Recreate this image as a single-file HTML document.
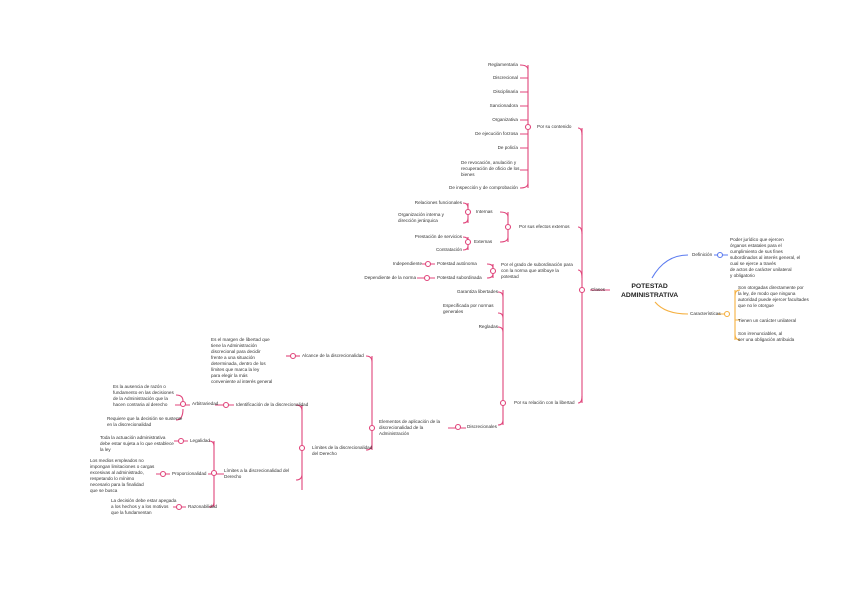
<!DOCTYPE html>
<html><head><meta charset="utf-8"><style>
body{margin:0;width:848px;height:600px;background:#fff;position:relative;overflow:hidden;font-family:"Liberation Sans",sans-serif}
.t{position:absolute;font-size:4.6px;line-height:6px;color:#333;white-space:nowrap}
.r{text-align:right}
svg{position:absolute;left:0;top:0}
</style></head><body>
<svg width="848" height="600" fill="none" stroke-width="1.1">
<g stroke="#e0457b">
<path d="M590 290 H610"/>
<path d="M582 128 V403"/>
<path d="M578 128 Q582 128 582 135 M578 227 Q582 227 582 234 M578 270 Q582 270 582 278 M578 403 Q582 403 582 396"/>
<path d="M528 65 V188 M520 65 Q528 65 528 70 M520 188 Q528 188 528 183"/>
<path d="M520 78 H528 M520 92 H528 M520 106 H528 M520 120 H528 M520 134 H528 M520 148 H528 M520 170 H528"/>
<path d="M508 212 V242 M500 212 Q508 212 508 217 M500 242 Q508 242 508 237"/>
<path d="M468 203 V223 M463 203 Q468 203 468 208 M463 223 Q468 223 468 218 M468 237 V250 M463 237 Q468 237 468 241 M463 250 Q468 250 468 246"/>
<path d="M493 264 V278 M487 264 Q493 264 493 268 M487 278 Q493 278 493 274"/>
<path d="M422 264 H435 M417 278 H435"/>
<path d="M503 290 V425 M498 292 Q503 292 503 297 M498 313 Q503 313 503 318 M498 327 Q503 327 503 332 M498 425 Q503 425 503 420"/>
<path d="M448 428 H466"/>
<path d="M372 356 V450 M366 356 Q372 356 372 362 M366 450 Q372 450 372 444"/>
<path d="M286 356 H300"/>
<path d="M302 405 V490 M296 405 Q302 405 302 411 M296 480 Q302 480 302 474"/>
<path d="M215 405 H234 M175 405 H190 M176 395 Q183 395 183 401 M176 420 Q183 420 183 409"/>
<path d="M214 441 V507 M209 441 Q214 441 214 446 M209 507 Q214 507 214 502 M208 474 H224"/>
<path d="M174 441 H188 M156 474 H170 M173 507 H186"/>
</g>
<g stroke="#e0457b" fill="#fff">
<circle cx="582" cy="290" r="2.5"/><circle cx="528" cy="127" r="2.5"/><circle cx="508" cy="227" r="2.5"/>
<circle cx="468" cy="212" r="2.5"/><circle cx="468" cy="242" r="2.5"/><circle cx="493" cy="271" r="2.5"/>
<circle cx="428" cy="264" r="2.5"/><circle cx="427" cy="278" r="2.5"/><circle cx="503" cy="403" r="2.5"/>
<circle cx="458" cy="427" r="2.5"/><circle cx="372" cy="428" r="2.5"/><circle cx="293" cy="356" r="2.5"/>
<circle cx="302" cy="448" r="2.5"/><circle cx="226" cy="405" r="2.5"/><circle cx="214" cy="473" r="2.5"/>
<circle cx="183" cy="404" r="2.5"/><circle cx="181" cy="441" r="2.5"/><circle cx="163" cy="474" r="2.5"/><circle cx="179" cy="507" r="2.5"/>
</g>
<path d="M652 278 Q665 255 688 255 M714 255 H728" stroke="#5b7bf0"/>
<circle cx="720" cy="255" r="2.5" stroke="#5b7bf0" fill="#fff"/>
<path d="M655 302 Q665 314 688 314 M718 314 H727 M735 290 V340 M740 290 Q735 290 735 296 M740 340 Q735 340 735 334 M735 320 H740" stroke="#f5b041"/>
<circle cx="727" cy="314" r="2.5" stroke="#f5b041" fill="#fff"/>
</svg>
<div class="t" style="left:621px;top:282px;font-size:6.8px;line-height:9px;font-weight:bold;text-align:center;color:#222">POTESTAD<br>ADMINISTRATIVA</div>
<div class="t" style="left:591px;top:287px">Clases</div>
<div class="t" style="left:692px;top:252px">Definición</div>
<div class="t" style="left:730px;top:237px">Poder jurídico que ejercen<br>órganos estatales para el<br>cumplimiento de sus fines<br>subordinados al interés general, el<br>cual se ejerce a través<br>de actos de carácter unilateral<br>y obligatorio</div>
<div class="t" style="left:690px;top:311px">Características</div>
<div class="t" style="left:738px;top:285px">Son otorgadas directamente por<br>la ley, de modo que ninguna<br>autoridad puede ejercer facultades<br>que no le otorgue</div>
<div class="t" style="left:738px;top:318px">Tienen un carácter unilateral</div>
<div class="t" style="left:738px;top:331px">Son irrenunciables, al<br>ser una obligación atribuida</div>
<div class="t" style="left:537px;top:124px">Por su contenido</div>
<div class="t r" style="right:330px;top:62px">Reglamentaria</div>
<div class="t r" style="right:330px;top:75px">Discrecional</div>
<div class="t r" style="right:330px;top:89px">Disciplinaria</div>
<div class="t r" style="right:330px;top:103px">Sancionadora</div>
<div class="t r" style="right:330px;top:117px">Organizativa</div>
<div class="t r" style="right:330px;top:131px">De ejecución forzosa</div>
<div class="t r" style="right:330px;top:145px">De policía</div>
<div class="t" style="left:461px;top:160px">De revocación, anulación y<br>recuperación de oficio de los<br>bienes</div>
<div class="t r" style="right:330px;top:185px">De inspección y de comprobación</div>
<div class="t" style="left:519px;top:224px">Por sus efectos externos</div>
<div class="t" style="left:476px;top:209px">Internas</div>
<div class="t" style="left:474px;top:239px">Externas</div>
<div class="t r" style="right:386px;top:200px">Relaciones funcionales</div>
<div class="t" style="left:398px;top:212px">Organización interna y<br>dirección jerárquica</div>
<div class="t r" style="right:386px;top:234px">Prestación de servicios</div>
<div class="t r" style="right:386px;top:247px">Contratación</div>
<div class="t" style="left:501px;top:262px">Por el grado de subordinación para<br>con la norma que atribuye la<br>potestad</div>
<div class="t" style="left:437px;top:261px">Potestad autónoma</div>
<div class="t" style="left:437px;top:275px">Potestad subordinada</div>
<div class="t r" style="right:426px;top:261px">Independiente</div>
<div class="t r" style="right:432px;top:275px">Dependiente de la norma</div>
<div class="t" style="left:514px;top:400px">Por su relación con la libertad</div>
<div class="t r" style="right:350px;top:289px">Garantiza libertades</div>
<div class="t" style="left:443px;top:303px">Especificada por normas<br>generales</div>
<div class="t r" style="right:350px;top:324px">Regladas</div>
<div class="t" style="left:467px;top:424px">Discrecionales</div>
<div class="t" style="left:379px;top:419px">Elementos de aplicación de la<br>discrecionalidad de la<br>Administración</div>
<div class="t" style="left:302px;top:353px">Alcance de la discrecionalidad</div>
<div class="t" style="left:211px;top:337px">Es el margen de libertad que<br>tiene la Administración<br>discrecional para decidir<br>frente a una situación<br>determinada, dentro de los<br>límites que marca la ley<br>para elegir la más<br>conveniente al interés general</div>
<div class="t" style="left:312px;top:445px">Límites de la discrecionalidad<br>del Derecho</div>
<div class="t" style="left:236px;top:402px">Identificación de la discrecionalidad</div>
<div class="t" style="left:224px;top:468px">Límites a la discrecionalidad del<br>Derecho</div>
<div class="t" style="left:192px;top:401px">Arbitrariedad</div>
<div class="t" style="left:113px;top:384px">Es la ausencia de razón o<br>fundamento en las decisiones<br>de la Administración que la<br>hacen contraria al derecho</div>
<div class="t" style="left:107px;top:416px">Requiere que la decisión se sustente<br>en la discrecionalidad</div>
<div class="t" style="left:190px;top:438px">Legalidad</div>
<div class="t" style="left:100px;top:435px">Toda la actuación administrativa<br>debe estar sujeta a lo que establece<br>la ley</div>
<div class="t" style="left:172px;top:471px">Proporcionalidad</div>
<div class="t" style="left:90px;top:458px">Los medios empleados no<br>impongan limitaciones o cargas<br>excesivas al administrado,<br>respetando lo mínimo<br>necesario para la finalidad<br>que se busca</div>
<div class="t" style="left:188px;top:504px">Razonabilidad</div>
<div class="t" style="left:111px;top:498px">La decisión debe estar apegada<br>a los hechos y a los motivos<br>que la fundamentan</div>
</body></html>
